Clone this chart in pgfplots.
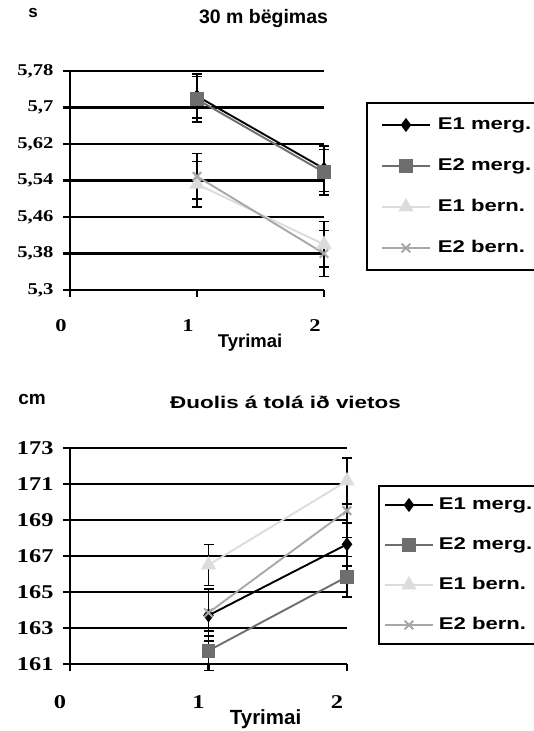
\documentclass[border=0pt]{standalone}
\usepackage{pgfplots}
\pgfplotsset{compat=1.18}
\usepackage{fontspec}
\setmainfont{Liberation Serif}
\newfontfamily\numfont{Liberation Serif}[FakeStretch=1.25]
\newfontfamily\legfont{Liberation Sans}[FakeStretch=1.3]
\newfontfamily\headfont{Liberation Sans}
\newfontfamily\headwide{Liberation Sans}[FakeStretch=1.32]

\definecolor{serB}{HTML}{6E6E6E}
\definecolor{serC}{HTML}{DCDCDC}
\definecolor{serD}{HTML}{A8A8A8}

\pgfplotsset{
  runchart/.style={
    scale only axis, enlargelimits=false, clip=false,
    xmin=0, xmax=2,
    axis lines=left,
    axis line style={-, line width=2.8pt, black},
    xtick={0,1,2}, xticklabels={0,1,2},
    tick style={line width=2.8pt, black},
    major tick length=7pt, tick align=outside,
    ymajorgrids, xmajorgrids=false,
    major grid style={line width=2.8pt, black},
    error bars/y dir=both, error bars/y explicit,
    error bars/error bar style={line width=1.6pt, black},
    error bars/error mark options={rotate=90, mark size=5pt, line width=1.6pt, black},
    legend cell align=left,
    legend image code/.code={%
      \draw[mark repeat=2, mark phase=2]
        plot coordinates {(0pt,0pt) (24pt,0pt) (48pt,0pt)};},
  },
  sA/.style={black, line width=1.9pt, mark=diamond*, mark size=5.5pt,
    mark options={solid, fill=black}},
  sB/.style={serB, line width=1.9pt, mark=square*, mark size=6pt,
    mark options={solid, fill=serB}},
  sC/.style={serC, line width=1.9pt, mark=triangle*, mark size=7pt,
    mark options={solid, fill=serC}},
  sD/.style={serD, line width=1.9pt, mark=x, mark size=6pt,
    mark options={solid, line width=2pt}},
}

\begin{document}
\begin{tikzpicture}[x=1pt, y=1pt]
\useasboundingbox (0,0) rectangle (534,731);
\clip (0,0) rectangle (534,731);
\fill[white] (0,0) rectangle (534,731);

% units of the two charts
\node[anchor=base, font=\headfont\bfseries\fontsize{17}{20}\selectfont] at (33,713) {s};
\node[anchor=base, font=\headfont\bfseries\fontsize{19}{22}\selectfont] at (32,326) {cm};

% ---- 30 m run ----
\begin{axis}[runchart,
  at={(70pt,441pt)}, anchor=south west,
  width=254pt, height=219pt,
  ymin=5.3, ymax=5.78,
  ytick={5.3,5.38,5.46,5.54,5.62,5.7,5.78},
  yticklabels={{5,3},{5,38},{5,46},{5,54},{5,62},{5,7},{5,78}},
  yticklabel style={font=\numfont\bfseries\fontsize{16.5}{18}\selectfont, xshift=-6pt},
  xticklabel style={font=\numfont\bfseries\fontsize{18}{20}\selectfont,
    xshift=-9pt, yshift=-19pt},
  title={30 m bëgimas},
  title style={font=\headfont\bfseries\fontsize{19.5}{22}\selectfont,
    at={(rel axis cs:0.7618,1.1895)}, anchor=base},
  xlabel={Tyrimai},
  xlabel style={font=\headfont\bfseries\fontsize{18.5}{22}\selectfont,
    at={(rel axis cs:0.709,-0.2635)}, anchor=base},
  legend style={at={(rel axis cs:1.1654,0.8584)}, anchor=north west,
    draw=black, line width=2pt, fill=white,
    inner xsep=14pt, inner ysep=14pt, row sep=25pt,
    font=\legfont\bfseries\fontsize{17}{20}\selectfont,
    nodes={inner sep=0pt, text height=12pt, text depth=4pt},
    column sep=7pt},
]
\addplot[sA] coordinates {(1,5.725) +- (0,0.048) (2,5.566) +- (0,0.05)};
\addplot[sB] coordinates {(1,5.718) +- (0,0.05) (2,5.558) +- (0,0.05)};
\addplot[sC] coordinates {(1,5.532) +- (0,0.05) (2,5.400) +- (0,0.05)};
\addplot[sD] coordinates {(1,5.549) +- (0,0.05) (2,5.380) +- (0,0.05)};
\legend{E1 merg.\hspace{20pt}, E2 merg., E1 bern., E2 bern.}
\end{axis}

% ---- standing long jump ----
\begin{axis}[runchart,
  at={(70pt,67pt)}, anchor=south west,
  width=277pt, height=216pt,
  ymin=161, ymax=173,
  ytick={161,163,165,167,169,171,173},
  yticklabels={161,163,165,167,169,171,173},
  yticklabel style={font=\numfont\bfseries\fontsize{19.5}{22}\selectfont, xshift=-6pt},
  xticklabel style={font=\numfont\bfseries\fontsize{19.5}{22}\selectfont,
    xshift=-10pt, yshift=-21pt},
  title={Ðuolis á tolá ið vietos},
  title style={font=\headwide\bfseries\fontsize{17}{20}\selectfont,
    at={(rel axis cs:0.778,1.1528)}, anchor=base},
  xlabel={Tyrimai},
  xlabel style={font=\headfont\bfseries\fontsize{20.5}{24}\selectfont,
    at={(rel axis cs:0.706,-0.2824)}, anchor=base},
  legend style={at={(rel axis cs:1.1119,0.8287)}, anchor=north west,
    draw=black, line width=2pt, fill=white,
    inner xsep=5pt, inner ysep=11pt, row sep=24pt,
    font=\legfont\bfseries\fontsize{17}{20}\selectfont,
    nodes={inner sep=0pt, text height=12pt, text depth=4pt},
    column sep=5pt},
]
\addplot[sA] coordinates {(1,163.70) +- (0,1.43) (2,167.65) +- (0,1.20)};
\addplot[sB] coordinates {(1,161.74) +- (0,1.10) (2,165.85) +- (0,1.13)};
\addplot[sC] coordinates {(1,166.50) +- (0,1.14) (2,171.17) +- (0,1.28)};
\addplot[sD] coordinates {(1,163.85) +- (0,1.30) (2,169.52) +- (0,1.50)};
\legend{E1 merg.\hspace{20pt}, E2 merg., E1 bern., E2 bern.}
\end{axis}
\end{tikzpicture}
\end{document}
